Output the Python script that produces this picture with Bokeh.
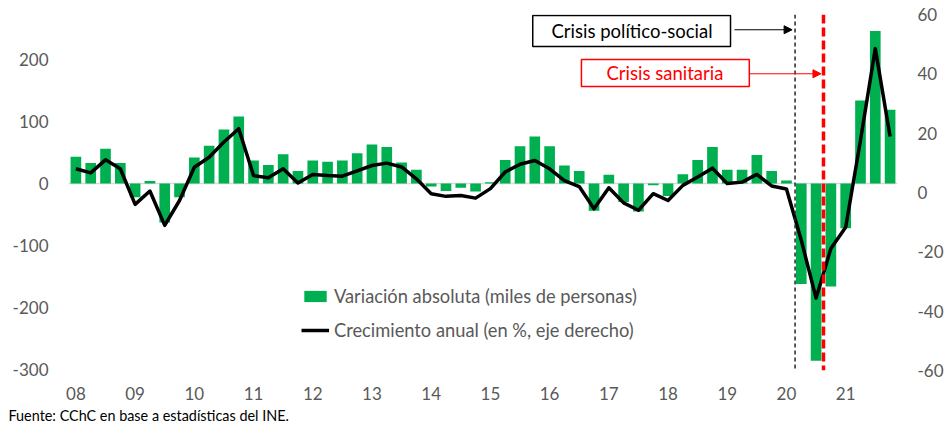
from bokeh.plotting import figure
from bokeh.models import (Range1d, LinearAxis, Span, Label, Legend, LegendItem,
                          Arrow, NormalHead, BoxAnnotation, FixedTicker, Title)
from bokeh.embed import file_html
from bokeh.resources import INLINE

# ---- data ----
year_labels = ["08", "09", "10", "11", "12", "13", "14", "15", "16", "17", "18", "19", "20", "21"]
quarters = [f"{y}-T{q}" for y in year_labels for q in range(1, 5)]

# Variación absoluta (miles de personas)
variacion = [43, 33, 56, 33, -22, 4, -63, -22,
             42, 61, 87, 108, 37, 30, 47, 20,
             37, 35, 37, 49, 63, 59, 34, 22,
             -5, -12, -7, -13, 2, 38, 60, 76,
             60, 29, 20, -44, 14, -30, -45, -3,
             -20, 15, 38, 59, 22, 22, 46, 20,
             5, -162, -286, -166, -72, 134, 246, 119]

# Crecimiento anual (en %, eje derecho)
crecimiento = [8.0, 6.6, 11.0, 8.0, -4.0, 0.5, -11.1, -2.7,
               8.5, 11.9, 17.0, 21.5, 5.7, 5.0, 8.0, 3.2,
               6.1, 5.7, 5.5, 7.3, 9.1, 9.9, 8.6, 4.6,
               -0.4, -1.3, -1.0, -1.9, 1.3, 6.9, 9.5, 10.8,
               8.0, 4.0, 2.0, -5.5, 1.6, -3.5, -6.0, -0.4,
               -2.7, 2.4, 5.2, 8.2, 3.0, 3.5, 6.1, 2.2,
               1.2, -16.1, -35.6, -18.9, -11.7, 17.6, 48.5, 18.9]

left_ticks = [-300, -200, -100, 0, 100, 200]
right_ticks = [-60, -40, -20, 0, 20, 40, 60]

# event markers (position on quarter index axis)
crisis_social_pos = 48.58
crisis_sanitaria_pos = 50.5

x = list(range(len(variacion)))
year_tick_pos = [4 * i for i in range(len(year_labels))]

GRAY = "#595959"
FONT = "Lato"

p = figure(width=946, height=427, output_backend="svg", toolbar_location=None,
           x_range=Range1d(-0.5, len(x) - 0.5), y_range=Range1d(-301.6, 272.6),
           min_border_left=68, min_border_right=44, min_border_top=14, min_border_bottom=57)
p.extra_y_ranges = {"right": Range1d(-60, 60)}
p.grid.visible = False
p.outline_line_color = None
p.background_fill_color = "white"
p.border_fill_color = "white"

# axes styling
p.yaxis.ticker = FixedTicker(ticks=left_ticks)
p.yaxis.major_label_overrides = {t: str(t) for t in left_ticks}
p.xaxis.ticker = FixedTicker(ticks=year_tick_pos)
p.xaxis.major_label_overrides = {pos: lab for pos, lab in zip(year_tick_pos, year_labels)}
for ax in [p.xaxis[0], p.yaxis[0]]:
    ax.axis_line_color = None
    ax.major_tick_line_color = None
    ax.minor_tick_line_color = None
    ax.major_label_text_color = GRAY
    ax.major_label_text_font = FONT
    ax.major_label_text_font_size = "17px"
p.yaxis.major_label_standoff = 14
p.xaxis.major_label_standoff = 10

raxis = LinearAxis(y_range_name="right", ticker=FixedTicker(ticks=right_ticks))
raxis.major_label_overrides = {t: str(t) for t in right_ticks}
raxis.axis_line_color = None
raxis.major_tick_line_color = None
raxis.minor_tick_line_color = None
raxis.major_label_text_color = GRAY
raxis.major_label_text_font = FONT
raxis.major_label_text_font_size = "17px"
raxis.major_label_standoff = 14
p.add_layout(raxis, "right")

# zero line
p.add_layout(Span(location=0, dimension="width", line_color="#D9D9D9", line_width=1.5, level="underlay"))

bars = p.vbar(x=x, top=variacion, width=0.72, fill_color="#00B050", line_color=None)
line = p.line(x, crecimiento, y_range_name="right", line_color="black", line_width=3.5, line_join="round")

# event lines
p.add_layout(Span(location=crisis_social_pos, dimension="height", line_color="#262626",
                  line_dash="4 3", line_width=1.5))
p.add_layout(Span(location=crisis_sanitaria_pos, dimension="height", line_color="#FF0000",
                  line_dash="9 4", line_width=3.5))

# annotation boxes
p.add_layout(BoxAnnotation(left=30.86, right=44.22, top=271, bottom=221,
                           fill_color="white", fill_alpha=1, line_color="black",
                           line_alpha=1, line_width=1.5))
p.add_layout(Label(x=37.57, y=246, text="Crisis político-social", text_align="center",
                   text_baseline="middle", text_font=FONT, text_font_size="18.5px", text_color="black"))
p.add_layout(Arrow(end=NormalHead(size=8, fill_color="black", line_color="black"),
                   x_start=44.49, y_start=248, x_end=crisis_social_pos - 0.2, y_end=248,
                   line_color="black", line_width=1))

p.add_layout(BoxAnnotation(left=34.15, right=45.49, top=200, bottom=156.5,
                           fill_color="white", fill_alpha=1, line_color="#FF0000",
                           line_alpha=1, line_width=1.5))
p.add_layout(Label(x=39.79, y=178, text="Crisis sanitaria", text_align="center",
                   text_baseline="middle", text_font=FONT, text_font_size="18.5px", text_color="#FF0000"))
p.add_layout(Arrow(end=NormalHead(size=8, fill_color="#FF0000", line_color="#FF0000"),
                   x_start=45.49, y_start=177, x_end=crisis_sanitaria_pos - 0.17, y_end=177,
                   line_color="#FF0000", line_width=1))

# legend
legend = Legend(items=[LegendItem(label="Variación absoluta (miles de personas)", renderers=[bars]),
                       LegendItem(label="Crecimiento anual (en %, eje derecho)", renderers=[line])],
                location=(233, 29), orientation="vertical", border_line_color=None,
                background_fill_alpha=0, padding=0, margin=0, spacing=12,
                glyph_width=28, glyph_height=14, label_standoff=5,
                label_text_font=FONT, label_text_font_size="18.3px", label_text_color=GRAY)
p.add_layout(legend)

# source note
p.add_layout(Title(text="Fuente: CChC en base a estadísticas del INE.", align="left", offset=-60,
                   standoff=4, text_font=FONT, text_font_size="14.4px", text_font_style="normal",
                   text_color="black"), "below")

open("out.html", "w").write(file_html(p, INLINE))
